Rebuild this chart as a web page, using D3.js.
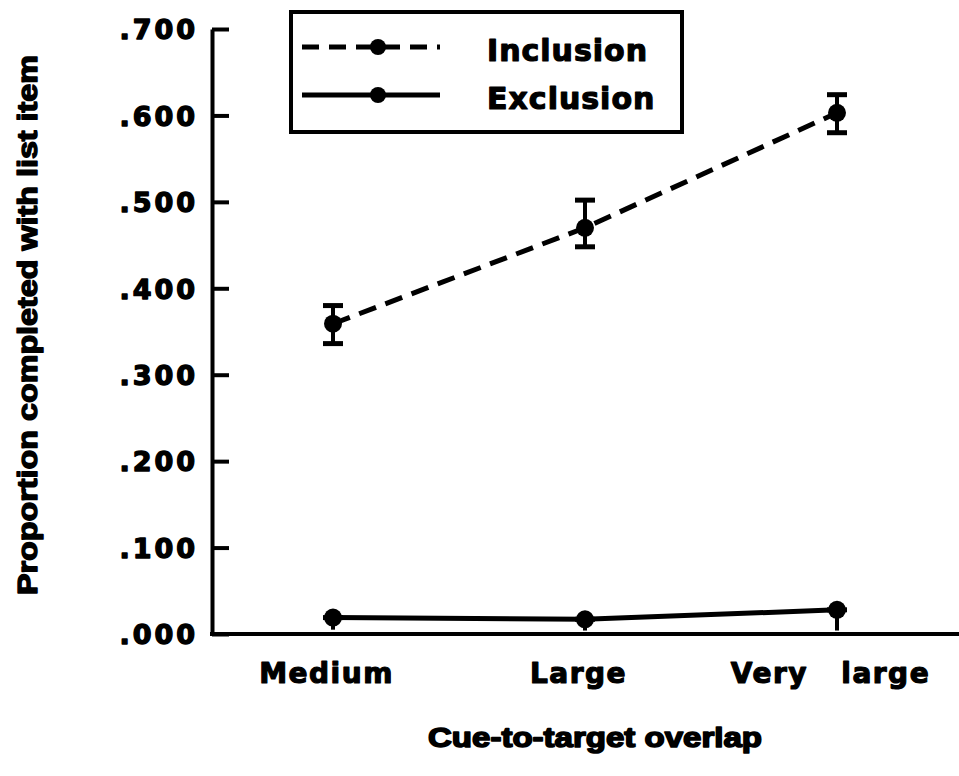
<!DOCTYPE html>
<html>
<head>
<meta charset="utf-8">
<script src="https://cdn.jsdelivr.net/npm/d3@7"></script>
<style>
  body { margin: 0; background: #fff; }
  text { fill: #000; stroke: #000; stroke-linejoin: round; }
</style>
</head>
<body>
<div id="graph"></div>
<script>
// chart data
const categories = ['Medium', 'Large', 'Very large'];
const inclusion = [0.359, 0.470, 0.603];
const inclusionLow = [0.336, 0.448, 0.580];
const inclusionHigh = [0.380, 0.502, 0.624];
const exclusion = [0.019, 0.017, 0.028];
const exclusionLow = [0.005, 0.004, 0.004];
const exclusionHigh = [0.019, 0.017, 0.028];
const yTicks = [0, 0.1, 0.2, 0.3, 0.4, 0.5, 0.6, 0.7];
const yTickLabels = ['.000', '.100', '.200', '.300', '.400', '.500', '.600', '.700'];

const W = 959, H = 776;
const plot = { left: 212, right: 959, top: 29, bottom: 634 };

const svg = d3.select('#graph')
  .append('svg')
  .attr('width', W)
  .attr('height', H);

// scales
const x = d3.scalePoint()
  .domain(categories)
  .range([333, 837]);

const y = d3.scaleLinear()
  .domain([0, 0.7])
  .range([plot.bottom, plot.top]);

// y axis, ticks pointing into the plot
const yAxis = svg.append('g')
  .attr('transform', `translate(${plot.left},0)`)
  .call(d3.axisLeft(y)
    .tickValues(yTicks)
    .tickFormat((d, i) => yTickLabels[i])
    .tickSizeInner(-17)
    .tickSizeOuter(0)
    .tickPadding(14));

yAxis.select('.domain').attr('stroke', '#000').attr('stroke-width', 4);
yAxis.selectAll('.tick line').attr('stroke', '#000').attr('stroke-width', 4);
yAxis.selectAll('.tick text')
  .attr('dy', '0.36em')
  .style('font-family', '"DejaVu Sans", sans-serif')
  .style('font-weight', 'bold')
  .style('font-size', '27px')
  .style('letter-spacing', '3px')
  .style('stroke-width', '1.4px');

// x axis
const xAxis = svg.append('g')
  .attr('transform', `translate(0,${plot.bottom})`)
  .call(d3.axisBottom(x).tickSize(0).tickPadding(22));

xAxis.select('.domain').remove();
xAxis.append('line')
  .attr('x1', plot.left - 2)
  .attr('x2', plot.right)
  .attr('stroke', '#000')
  .attr('stroke-width', 4);

xAxis.selectAll('.tick text')
  .attr('dx', -7)
  .attr('dy', '0.95em')
  .style('font-family', '"DejaVu Sans", sans-serif')
  .style('font-weight', 'bold')
  .style('font-size', '28px')
  .style('letter-spacing', '1.5px')
  .style('word-spacing', '22px')
  .style('stroke-width', '1.2px');

// axis titles
svg.append('text')
  .attr('x', 595)
  .attr('y', 747)
  .attr('text-anchor', 'middle')
  .attr('textLength', 334)
  .attr('lengthAdjust', 'spacingAndGlyphs')
  .style('font-family', '"Liberation Sans", Arial, sans-serif')
  .style('font-weight', 'bold')
  .style('font-size', '28px')
  .style('stroke-width', '1.6px')
  .text('Cue-to-target overlap');

svg.append('text')
  .attr('transform', 'rotate(-90)')
  .attr('x', -325)
  .attr('y', 37)
  .attr('text-anchor', 'middle')
  .attr('textLength', 540)
  .attr('lengthAdjust', 'spacingAndGlyphs')
  .style('font-family', '"Liberation Sans", Arial, sans-serif')
  .style('font-weight', 'bold')
  .style('font-size', '27px')
  .style('stroke-width', '1.4px')
  .text('Proportion completed with list item');

// series
const series = [
  { name: 'Inclusion', values: inclusion, low: inclusionLow, high: inclusionHigh, dash: '18 10' },
  { name: 'Exclusion', values: exclusion, low: exclusionLow, high: exclusionHigh, dash: null }
];

const line = d3.line()
  .x((d, i) => x(categories[i]))
  .y(d => y(d));

series.forEach(s => {
  svg.append('path')
    .datum(s.values)
    .attr('fill', 'none')
    .attr('stroke', '#000')
    .attr('stroke-width', 5)
    .attr('stroke-dasharray', s.dash)
    .attr('d', line);

  const err = svg.append('g');
  categories.forEach((c, i) => {
    err.append('line')
      .attr('x1', x(c)).attr('x2', x(c))
      .attr('y1', y(s.low[i])).attr('y2', y(s.high[i]))
      .attr('stroke', '#000').attr('stroke-width', 4);
    err.append('line')
      .attr('x1', x(c) - 10).attr('x2', x(c) + 10)
      .attr('y1', y(s.high[i])).attr('y2', y(s.high[i]))
      .attr('stroke', '#000').attr('stroke-width', 5);
    err.append('line')
      .attr('x1', x(c) - 10).attr('x2', x(c) + 10)
      .attr('y1', y(s.low[i])).attr('y2', y(s.low[i]))
      .attr('stroke', '#000').attr('stroke-width', s.dash ? 5 : 0);
  });

  svg.append('g')
    .selectAll('circle')
    .data(s.values)
    .join('circle')
    .attr('cx', (d, i) => x(categories[i]))
    .attr('cy', d => y(d))
    .attr('r', 9)
    .attr('fill', '#000');
});

// legend
const legend = svg.append('g');

legend.append('rect')
  .attr('x', 291)
  .attr('y', 12)
  .attr('width', 391)
  .attr('height', 120)
  .attr('fill', 'none')
  .attr('stroke', '#000')
  .attr('stroke-width', 4);

series.forEach((s, i) => {
  const ly = 47 + i * 48;
  legend.append('line')
    .attr('x1', 302)
    .attr('x2', 440)
    .attr('y1', ly)
    .attr('y2', ly)
    .attr('stroke', '#000')
    .attr('stroke-width', 5)
    .attr('stroke-dasharray', s.dash ? '17 10' : null);

  legend.append('circle')
    .attr('cx', 378)
    .attr('cy', ly)
    .attr('r', 8)
    .attr('fill', '#000');

  legend.append('text')
    .attr('x', 487)
    .attr('y', ly + 14)
    .style('font-family', '"DejaVu Sans", sans-serif')
    .style('font-weight', 'bold')
    .style('font-size', '30px')
    .style('letter-spacing', '1px')
    .style('stroke-width', '1.2px')
    .text(s.name);
});
</script>
</body>
</html>
